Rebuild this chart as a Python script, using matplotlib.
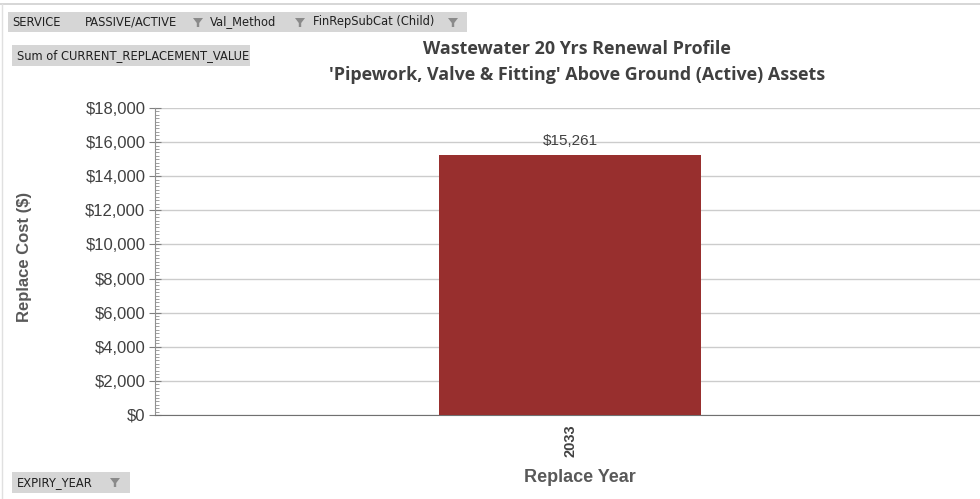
import matplotlib.pyplot as plt
from matplotlib.patches import Rectangle, Polygon
from matplotlib.ticker import MultipleLocator, FuncFormatter

years = ["2033"]
replace_cost = [15261]

title = "Wastewater 20 Yrs Renewal Profile\n'Pipework, Valve & Fitting' Above Ground (Active) Assets"
bar_color = "#982f2e"
text_gray = "#404040"

fig = plt.figure(figsize=(9.8, 4.99), dpi=100)
W, H = 980, 499


def fx(px):
    return px / W


def fy(py):
    return 1 - py / H


ax = fig.add_axes([fx(155), fy(415), fx(830), fy(108) - fy(415)])

xpos = range(len(years))
bars = ax.bar(xpos, replace_cost, width=0.315, color=bar_color, zorder=3)
ax.set_xlim(-0.5, 0.5)
ax.set_ylim(0, 18000)

ax.yaxis.set_major_locator(MultipleLocator(2000))
ax.yaxis.set_minor_locator(MultipleLocator(200))
ax.yaxis.set_major_formatter(FuncFormatter(lambda v, p: f"${v:,.0f}"))
ax.grid(axis="y", which="major", color="#cccccc", linewidth=1.0, zorder=0)

ax.set_xticks(list(xpos))
ax.set_xticklabels(years, rotation=90, fontsize=10.5, fontweight="bold",
                   color=text_gray, family="Liberation Sans")
ax.tick_params(axis="x", length=0, pad=7)
ax.tick_params(axis="y", which="major", direction="inout", length=8,
               color="#808080", labelsize=12, labelcolor=text_gray, pad=3)
ax.tick_params(axis="y", which="minor", direction="in", length=3, color="#909090")
for lbl in ax.get_yticklabels():
    lbl.set_family("Liberation Sans")

for side in ("top", "right"):
    ax.spines[side].set_visible(False)
ax.spines["left"].set_color("#909090")
ax.spines["bottom"].set_color("#707070")

for b, v in zip(bars, replace_cost):
    ax.annotate(f"${v:,.0f}", (b.get_x() + b.get_width() / 2, v),
                xytext=(0, 5), textcoords="offset points", ha="center", va="bottom",
                fontsize=11, color=text_gray, family="Liberation Sans")

fig.text(fx(25), fy(257), "Replace Cost ($)", rotation=90, ha="center", va="center",
         fontsize=12, fontweight="bold", color="#595959", family="Liberation Sans")
fig.text(fx(580), fy(477), "Replace Year", ha="center", va="center",
         fontsize=13, fontweight="bold", color="#595959", family="Liberation Sans")
fig.text(fx(577), fy(62), title, ha="center", va="center", linespacing=1.5,
         fontsize=12.9, fontweight="bold", color=text_gray, family="Open Sans")

# frame lines around the pivot chart
fig.add_artist(plt.Line2D([fx(0), 1], [fy(4), fy(4)], color="#d0d0d0", lw=1.2))
fig.add_artist(plt.Line2D([fx(2), fx(2)], [fy(4), 0], color="#e0e0e0", lw=1.0))

# pivot field buttons
btn_kw = dict(fontsize=8.3, color="#202020", family="DejaVu Sans", va="center", ha="left")
fig.add_artist(Rectangle((fx(8), fy(32)), fx(459), fy(12) - fy(32),
                         facecolor="#d6d6d6", edgecolor="none"))
fig.add_artist(Rectangle((fx(12), fy(66)), fx(238), fy(45) - fy(66),
                         facecolor="#d6d6d6", edgecolor="none"))
fig.add_artist(Rectangle((fx(12), fy(493)), fx(118), fy(472) - fy(493),
                         facecolor="#d6d6d6", edgecolor="none"))


def funnel(cx, cy):
    pts = [(cx - 5, cy - 4), (cx + 5, cy - 4), (cx + 1.2, cy + 1), (cx + 1.2, cy + 5),
           (cx - 1.2, cy + 5), (cx - 1.2, cy + 1)]
    fig.add_artist(Polygon([(fx(x), fy(y)) for x, y in pts], closed=True,
                           facecolor="#8a8a8a", edgecolor="none"))


fields = [("SERVICE", 12, None), ("PASSIVE/ACTIVE", 85, None),
          ("Val_Method", 210, 198), ("FinRepSubCat (Child)", 313, 300)]
for name, x, fpx in fields:
    fig.text(fx(x), fy(22), name, **btn_kw)
    if fpx is not None:
        funnel(fpx, 22)
funnel(453, 22)
fig.text(fx(17), fy(56), "Sum of CURRENT_REPLACEMENT_VALUE", **btn_kw)
fig.text(fx(17), fy(483), "EXPIRY_YEAR", **btn_kw)
funnel(115, 482)

fig.savefig("out.png", dpi=100)
